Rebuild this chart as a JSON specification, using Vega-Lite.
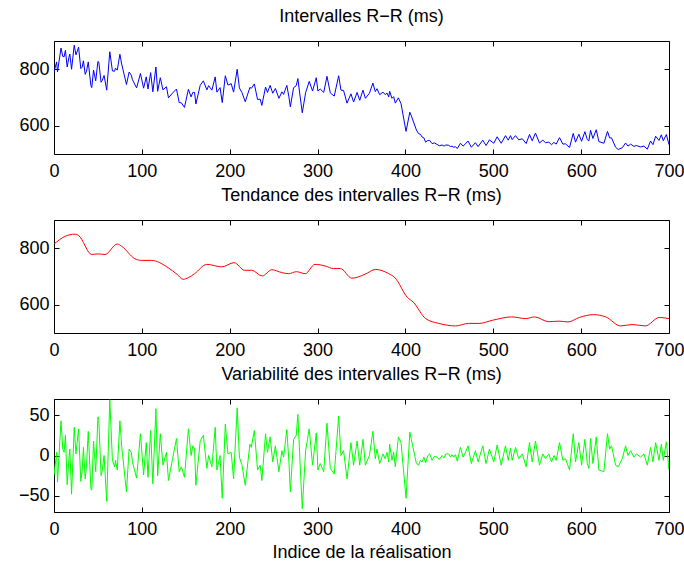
{
  "$schema": "https://vega.github.io/schema/vega-lite/v6.json",
  "padding": {"left": 17, "top": 7, "right": 10, "bottom": 0},
  "spacing": 5,
  "config": {
    "font": "Liberation Sans",
    "view": {"stroke": "#000000", "strokeWidth": 1},
    "axis": {"grid": false, "domain": false, "tickColor": "#000000", "tickSize": -5, "labelFontSize": 18, "labelColor": "#000000", "labelFont": "Liberation Sans", "titleFont": "Liberation Sans", "titleFontSize": 18, "titleFontWeight": "normal", "titleColor": "#000000", "labelPadding": 10, "labelFlush": false},
    "axisX": {"labelPadding": 13},
    "title": {"fontSize": 18, "fontWeight": "normal", "font": "Liberation Sans", "color": "#000000", "offset": 15}
  },
  "datasets": {
    "rr": [
      {"i":0,"rr":790,"var":-25},{"i":3,"rr":826,"var":4},{"i":4,"rr":791,"var":-33},{"i":8,"rr":875,"var":43},{"i":10,"rr":845,"var":8},{"i":11.5,"rr":844,"var":4},{"i":13,"rr":867,"var":25},{"i":15,"rr":808,"var":-36},{"i":17,"rr":842,"var":-4},{"i":18,"rr":854,"var":8},{"i":20,"rr":800,"var":-48},{"i":23,"rr":885,"var":35},{"i":25,"rr":851,"var":2},{"i":28,"rr":878,"var":33},{"i":30.5,"rr":802,"var":-32},{"i":32,"rr":807,"var":-20},{"i":33.5,"rr":830,"var":10},{"i":35.5,"rr":782,"var":-29},{"i":37,"rr":793,"var":-12},{"i":39,"rr":826,"var":30},{"i":42,"rr":742,"var":-41},{"i":43,"rr":735,"var":-43},{"i":45,"rr":797,"var":18},{"i":47.5,"rr":759,"var":-20},{"i":50,"rr":828,"var":48},{"i":51,"rr":825,"var":45},{"i":53.6,"rr":754,"var":-25},{"i":55,"rr":761,"var":-18},{"i":57,"rr":778,"var":0},{"i":60,"rr":726,"var":-57},{"i":63.5,"rr":862,"var":69},{"i":66.5,"rr":794,"var":-6},{"i":69,"rr":793,"var":-14},{"i":70,"rr":804,"var":-6},{"i":72,"rr":797,"var":-18},{"i":75,"rr":853,"var":43},{"i":77,"rr":819,"var":12},{"i":82.5,"rr":746,"var":-45},{"i":85.5,"rr":790,"var":8},{"i":88,"rr":779,"var":4},{"i":89.3,"rr":763,"var":-8},{"i":94,"rr":734,"var":-28},{"i":98.4,"rr":785,"var":27},{"i":102,"rr":733,"var":-24},{"i":105,"rr":773,"var":16},{"i":107,"rr":730,"var":-27},{"i":110,"rr":788,"var":31},{"i":112.5,"rr":720,"var":-35},{"i":116,"rr":808,"var":58},{"i":118,"rr":722,"var":-25},{"i":121,"rr":770,"var":27},{"i":124,"rr":727,"var":-12},{"i":128,"rr":738,"var":4},{"i":130.3,"rr":699,"var":-31},{"i":135,"rr":716,"var":-4},{"i":139.4,"rr":730,"var":21},{"i":142.5,"rr":682,"var":-20},{"i":145,"rr":681,"var":-14},{"i":148.5,"rr":665,"var":-27},{"i":153,"rr":729,"var":33},{"i":156,"rr":702,"var":0},{"i":158,"rr":718,"var":12},{"i":160,"rr":718,"var":8},{"i":161.5,"rr":677,"var":-37},{"i":166.4,"rr":743,"var":18},{"i":170,"rr":759,"var":25},{"i":174,"rr":727,"var":-16},{"i":176,"rr":742,"var":0},{"i":179.7,"rr":726,"var":-14},{"i":183.5,"rr":773,"var":35},{"i":185.4,"rr":719,"var":-18},{"i":189,"rr":735,"var":0},{"i":191.5,"rr":682,"var":-53},{"i":195,"rr":777,"var":39},{"i":198,"rr":744,"var":2},{"i":201.7,"rr":749,"var":4},{"i":204.4,"rr":719,"var":-29},{"i":208.5,"rr":800,"var":59},{"i":211,"rr":734,"var":-2},{"i":214,"rr":717,"var":-12},{"i":217.7,"rr":685,"var":-37},{"i":223,"rr":736,"var":14},{"i":224.5,"rr":732,"var":10},{"i":228,"rr":748,"var":31},{"i":231.7,"rr":693,"var":-18},{"i":234.7,"rr":694,"var":-12},{"i":236.6,"rr":672,"var":-31},{"i":240.8,"rr":737,"var":27},{"i":243,"rr":718,"var":4},{"i":246,"rr":743,"var":23},{"i":249,"rr":715,"var":-8},{"i":252,"rr":732,"var":12},{"i":256,"rr":697,"var":-20},{"i":259.4,"rr":720,"var":6},{"i":261.3,"rr":711,"var":-2},{"i":265,"rr":743,"var":32},{"i":267.4,"rr":702,"var":-8},{"i":269,"rr":667,"var":-45},{"i":272.7,"rr":735,"var":20},{"i":275.7,"rr":742,"var":25},{"i":277.6,"rr":767,"var":51},{"i":279.5,"rr":719,"var":4},{"i":282.6,"rr":646,"var":-66},{"i":286.4,"rr":717,"var":6},{"i":290.5,"rr":757,"var":33},{"i":294.3,"rr":723,"var":-12},{"i":298.5,"rr":770,"var":28},{"i":300.4,"rr":723,"var":-18},{"i":303,"rr":730,"var":-10},{"i":307,"rr":718,"var":-20},{"i":310.7,"rr":775,"var":40},{"i":314.5,"rr":716,"var":-16},{"i":319,"rr":705,"var":-23},{"i":324,"rr":777,"var":49},{"i":326.6,"rr":726,"var":0},{"i":329.6,"rr":725,"var":6},{"i":333.5,"rr":680,"var":-29},{"i":338,"rr":713,"var":16},{"i":341,"rr":684,"var":-12},{"i":345,"rr":718,"var":18},{"i":348,"rr":690,"var":-12},{"i":351.7,"rr":726,"var":20},{"i":354.4,"rr":697,"var":-12},{"i":359,"rr":715,"var":0},{"i":363,"rr":751,"var":30},{"i":365.7,"rr":721,"var":-4},{"i":367.6,"rr":731,"var":8},{"i":370.7,"rr":710,"var":-10},{"i":374.5,"rr":719,"var":2},{"i":377,"rr":710,"var":-4},{"i":379,"rr":716,"var":4},{"i":381,"rr":702,"var":-8},{"i":382,"rr":722,"var":14},{"i":384.7,"rr":697,"var":-6},{"i":386.6,"rr":703,"var":4},{"i":388.5,"rr":680,"var":-14},{"i":392,"rr":699,"var":23},{"i":395,"rr":678,"var":16},{"i":400.7,"rr":580,"var":-53},{"i":405,"rr":648,"var":29},{"i":406.7,"rr":635,"var":20},{"i":412.5,"rr":585,"var":-10},{"i":415,"rr":572,"var":-12},{"i":417,"rr":570,"var":-6},{"i":419,"rr":560,"var":-8},{"i":421,"rr":557,"var":-2},{"i":423,"rr":542,"var":-9},{"i":425.5,"rr":548,"var":0},{"i":427.6,"rr":548,"var":2},{"i":430.3,"rr":537,"var":-6},{"i":433,"rr":539,"var":-1},{"i":436,"rr":534,"var":-2},{"i":438.5,"rr":529,"var":-5},{"i":441.7,"rr":532,"var":0},{"i":444,"rr":528,"var":-3},{"i":446,"rr":532,"var":2},{"i":449,"rr":531,"var":2},{"i":451.5,"rr":526,"var":-2},{"i":453,"rr":528,"var":1},{"i":455,"rr":524,"var":-2},{"i":457,"rr":526,"var":1},{"i":459,"rr":519,"var":-7},{"i":462.6,"rr":538,"var":10},{"i":465.6,"rr":528,"var":-2},{"i":468,"rr":535,"var":3},{"i":471.3,"rr":546,"var":12},{"i":475,"rr":524,"var":-10},{"i":479.7,"rr":540,"var":6},{"i":482.7,"rr":526,"var":-8},{"i":488,"rr":549,"var":12},{"i":491.8,"rr":530,"var":-10},{"i":495.6,"rr":550,"var":8},{"i":500.6,"rr":538,"var":-8},{"i":504.4,"rr":561,"var":13},{"i":509,"rr":538,"var":-12},{"i":513.9,"rr":565,"var":12},{"i":517,"rr":549,"var":-6},{"i":519.6,"rr":565,"var":9},{"i":521.5,"rr":551,"var":-6},{"i":525.3,"rr":565,"var":10},{"i":529,"rr":550,"var":-4},{"i":533,"rr":554,"var":2},{"i":537.4,"rr":537,"var":-14},{"i":541.2,"rr":569,"var":16},{"i":544.3,"rr":547,"var":-8},{"i":548,"rr":574,"var":18},{"i":552.6,"rr":539,"var":-12},{"i":556.4,"rr":549,"var":2},{"i":559.4,"rr":540,"var":-4},{"i":563.2,"rr":542,"var":2},{"i":566.3,"rr":533,"var":-8},{"i":569,"rr":541,"var":0},{"i":571.6,"rr":535,"var":-6},{"i":575.4,"rr":558,"var":16},{"i":579.2,"rr":535,"var":-6},{"i":582.2,"rr":536,"var":-4},{"i":586.8,"rr":523,"var":-18},{"i":591,"rr":573,"var":27},{"i":593.6,"rr":542,"var":-8},{"i":597.4,"rr":570,"var":16},{"i":600.5,"rr":545,"var":-12},{"i":604.3,"rr":579,"var":20},{"i":607,"rr":551,"var":-10},{"i":608.8,"rr":546,"var":-16},{"i":610.7,"rr":584,"var":21},{"i":613.4,"rr":555,"var":-10},{"i":617.2,"rr":586,"var":23},{"i":620.2,"rr":544,"var":-18},{"i":625.9,"rr":538,"var":-20},{"i":630,"rr":580,"var":27},{"i":632.4,"rr":557,"var":8},{"i":634.6,"rr":557,"var":12},{"i":639.2,"rr":524,"var":-12},{"i":642.2,"rr":516,"var":-14},{"i":646.8,"rr":522,"var":-4},{"i":650.6,"rr":539,"var":12},{"i":653.3,"rr":528,"var":0},{"i":656.3,"rr":535,"var":6},{"i":660.1,"rr":527,"var":-2},{"i":662.8,"rr":530,"var":2},{"i":667.7,"rr":525,"var":-2},{"i":671.5,"rr":528,"var":2},{"i":675.3,"rr":517,"var":-12},{"i":679,"rr":546,"var":10},{"i":681.7,"rr":533,"var":-8},{"i":684.8,"rr":563,"var":16},{"i":688.6,"rr":548,"var":-6},{"i":691.3,"rr":568,"var":14},{"i":693.5,"rr":547,"var":-6},{"i":697,"rr":569,"var":17},{"i":700,"rr":533,"var":-18}
    ],
    "trend": [
      {"i":0,"t":815},{"i":12.5,"t":842},{"i":24,"t":850},{"i":28,"t":845},{"i":43,"t":778},{"i":50,"t":780},{"i":58,"t":778},{"i":72,"t":815},{"i":77,"t":807},{"i":92,"t":763},{"i":100,"t":757},{"i":111,"t":757},{"i":130,"t":731},{"i":140,"t":708},{"i":147,"t":690},{"i":153,"t":696},{"i":160,"t":710},{"i":174,"t":743},{"i":191,"t":734},{"i":205,"t":749},{"i":217,"t":722},{"i":225,"t":722},{"i":237,"t":702},{"i":248,"t":724},{"i":259,"t":714},{"i":267,"t":710},{"i":276,"t":717},{"i":286,"t":710},{"i":297,"t":743},{"i":309,"t":737},{"i":318,"t":728},{"i":326,"t":728},{"i":339,"t":694},{"i":354,"t":708},{"i":366,"t":725},{"i":381,"t":710},{"i":388,"t":696},{"i":402,"t":627},{"i":409,"t":609},{"i":423,"t":551},{"i":438,"t":534},{"i":457,"t":525},{"i":472,"t":534},{"i":484,"t":534},{"i":499,"t":545},{"i":521,"t":557},{"i":537,"t":551},{"i":547,"t":557},{"i":563,"t":540},{"i":575,"t":542},{"i":585,"t":539},{"i":598,"t":555},{"i":614,"t":565},{"i":628,"t":557},{"i":645,"t":525},{"i":658,"t":530},{"i":673,"t":525},{"i":689,"t":555},{"i":700,"t":551}
    ]
  },
  "vconcat": [
    {
      "title": "Intervalles R−R (ms)",
      "width": 615, "height": 113,
      "data": {"name": "rr"},
      "resolve": {"axis": {"x": "independent", "y": "independent"}},
      "layer": [
        {"mark": {"type": "line", "color": "#0000ff", "strokeWidth": 1, "clip": true},
         "encoding": {
           "x": {"field": "i", "type": "quantitative", "scale": {"domain": [0, 700], "nice": false}, "axis": {"orient": "bottom", "values": [0,100,200,300,400,500,600,700], "title": null}},
           "y": {"field": "rr", "type": "quantitative", "scale": {"domain": [500, 900], "nice": false, "zero": false}, "axis": {"orient": "left", "values": [600, 800], "title": null}}}},
        {"mark": {"type": "line", "opacity": 0},
         "encoding": {
           "x": {"field": "i", "type": "quantitative", "axis": {"orient": "top", "labels": false, "values": [0,100,200,300,400,500,600,700], "title": null}},
           "y": {"field": "rr", "type": "quantitative", "axis": {"orient": "right", "labels": false, "values": [600, 800], "title": null}}}}
      ]
    },
    {
      "title": "Tendance des intervalles R−R (ms)",
      "width": 615, "height": 113,
      "data": {"name": "trend"},
      "resolve": {"axis": {"x": "independent", "y": "independent"}},
      "layer": [
        {"mark": {"type": "line", "color": "#ff0000", "strokeWidth": 1, "interpolate": "monotone", "clip": true},
         "encoding": {
           "x": {"field": "i", "type": "quantitative", "scale": {"domain": [0, 700], "nice": false}, "axis": {"orient": "bottom", "values": [0,100,200,300,400,500,600,700], "title": null}},
           "y": {"field": "t", "type": "quantitative", "scale": {"domain": [500, 900], "nice": false, "zero": false}, "axis": {"orient": "left", "values": [600, 800], "title": null}}}},
        {"mark": {"type": "line", "opacity": 0},
         "encoding": {
           "x": {"field": "i", "type": "quantitative", "axis": {"orient": "top", "labels": false, "values": [0,100,200,300,400,500,600,700], "title": null}},
           "y": {"field": "t", "type": "quantitative", "axis": {"orient": "right", "labels": false, "values": [600, 800], "title": null}}}}
      ]
    },
    {
      "title": "Variabilité des intervalles R−R (ms)",
      "width": 615, "height": 113,
      "data": {"name": "rr"},
      "resolve": {"axis": {"x": "independent", "y": "independent"}},
      "layer": [
        {"mark": {"type": "line", "color": "#00ff00", "strokeWidth": 1, "clip": true},
         "encoding": {
           "x": {"field": "i", "type": "quantitative", "scale": {"domain": [0, 700], "nice": false}, "axis": {"orient": "bottom", "values": [0,100,200,300,400,500,600,700], "title": "Indice de la réalisation", "titlePadding": 5}},
           "y": {"field": "var", "type": "quantitative", "scale": {"domain": [-70, 70], "nice": false, "zero": false}, "axis": {"orient": "left", "values": [-50, 0, 50], "title": null}}}},
        {"mark": {"type": "line", "opacity": 0},
         "encoding": {
           "x": {"field": "i", "type": "quantitative", "axis": {"orient": "top", "labels": false, "values": [0,100,200,300,400,500,600,700], "title": null}},
           "y": {"field": "var", "type": "quantitative", "axis": {"orient": "right", "labels": false, "values": [-50, 0, 50], "title": null}}}}
      ]
    }
  ]
}
